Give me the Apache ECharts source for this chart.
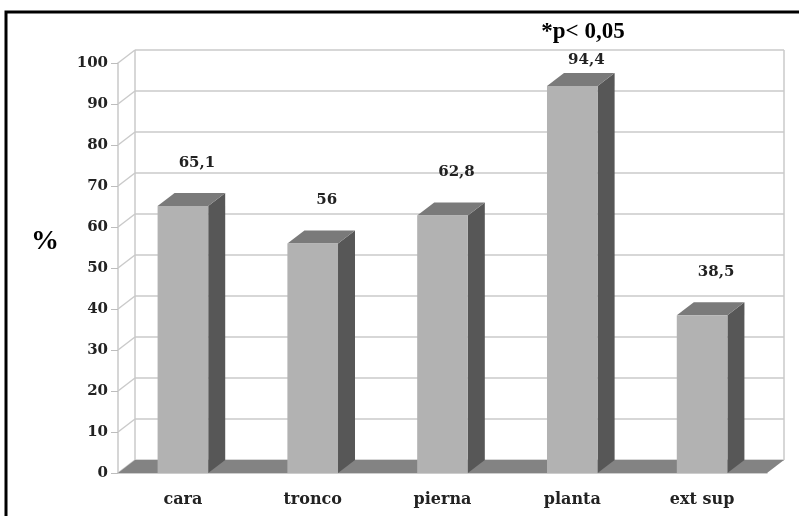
<!DOCTYPE html>
<html>
<head>
<meta charset="utf-8">
<script src="https://cdn.jsdelivr.net/npm/echarts@6/dist/echarts.min.js"></script>
<style>
  html, body { margin: 0; padding: 0; background: #fff; }
  #main { width: 799px; height: 516px; }
</style>
</head>
<body>
<div id="main"></div>
<script>
var categories = ['cara', 'tronco', 'pierna', 'planta', 'ext sup'];
var values = [65.1, 56, 62.8, 94.4, 38.5];
var valueLabels = ['65,1', '56', '62,8', '94,4', '38,5'];
var yTicks = [0, 10, 20, 30, 40, 50, 60, 70, 80, 90, 100];

// depth of the fake 3d
var DX = 17, DY = -13;
var labelFont = 'bold 15px "DejaVu Serif"';

var chart = echarts.init(document.getElementById('main'));

function renderWall(params, api) {
    var cs = params.coordSys;
    var left = cs.x, right = cs.x + cs.width;
    var y = api.coord([0, api.value(1)])[1];
    var line = { stroke: '#cacaca', lineWidth: 1.5 };
    var kids = [
        { type: 'line', shape: { x1: left, y1: y, x2: left + DX, y2: y + DY }, style: line },
        { type: 'line', shape: { x1: left + DX, y1: y + DY, x2: right + DX, y2: y + DY }, style: line }
    ];
    if (params.dataIndex === 0) {
        var yTop = cs.y;
        kids.push({ type: 'line', shape: { x1: left + DX, y1: y + DY, x2: left + DX, y2: yTop + DY }, style: line });
        kids.push({ type: 'line', shape: { x1: right + DX, y1: y + DY, x2: right + DX, y2: yTop + DY }, style: line });
        kids.push({
            type: 'polygon',
            shape: { points: [[left, y], [right, y], [right + DX, y + DY], [left + DX, y + DY]] },
            style: { fill: '#838383' }
        });
    }
    return { type: 'group', children: kids };
}

function renderBar(params, api) {
    var idx = api.value(0), v = api.value(1);
    var top = api.coord([idx, v]);
    var base = api.coord([idx, 0]);
    var w = api.size([1, 0])[0] * 0.39;
    var xl = top[0] - w / 2, xr = top[0] + w / 2;
    var yt = top[1], yb = base[1];
    var ly = api.coord([idx, Math.min(v + 10.5, 100.7)])[1];
    return {
        type: 'group',
        children: [
            { type: 'polygon', shape: { points: [[xr, yt], [xr + DX, yt + DY], [xr + DX, yb + DY], [xr, yb]] }, style: { fill: '#575757' } },
            { type: 'polygon', shape: { points: [[xl, yt], [xr, yt], [xr + DX, yt + DY], [xl + DX, yt + DY]] }, style: { fill: '#7a7a7a' } },
            { type: 'rect', shape: { x: xl, y: yt, width: w, height: yb - yt }, style: { fill: '#b2b2b2' } },
            { type: 'text', x: top[0] + 14, y: ly, style: { text: valueLabels[params.dataIndex], font: labelFont, fill: '#222', align: 'center', verticalAlign: 'middle' } }
        ]
    };
}

chart.setOption({
    animation: false,
    grid: { left: 118, right: 32, top: 63, bottom: 43 },
    xAxis: {
        type: 'category',
        data: categories,
        axisLine: { lineStyle: { color: '#bdbdbd', width: 1.5 } },
        axisTick: { length: 6, lineStyle: { color: '#c4c4c4' } },
        axisLabel: { margin: 19, color: '#222', fontFamily: 'DejaVu Serif', fontWeight: 'bold', fontSize: 16 },
        splitLine: { show: false }
    },
    yAxis: {
        type: 'value',
        min: 0, max: 100, interval: 10,
        axisLine: { show: true, lineStyle: { color: '#c8c8c8', width: 1.5 } },
        axisTick: { show: true, length: 7, lineStyle: { color: '#bdbdbd' } },
        axisLabel: { margin: 10, color: '#222', fontFamily: 'DejaVu Serif', fontWeight: 'bold', fontSize: 15 },
        splitLine: { show: false }
    },
    series: [{
        type: 'custom',
        renderItem: renderWall,
        data: yTicks.map(function (t) { return [0, t]; }),
        z: 1,
        silent: true
    }, {
        type: 'custom',
        renderItem: renderBar,
        data: values.map(function (v, i) { return [i, v]; }),
        z: 3
    }],
    graphic: [
        { type: 'rect', shape: { x: 6, y: 12, width: 900, height: 700 }, style: { fill: 'none', stroke: '#000', lineWidth: 3 } },
        { type: 'text', x: 45, y: 242, style: { text: '%', font: 'bold 28px "Liberation Serif"', fill: '#000', align: 'center', verticalAlign: 'middle' } },
        { type: 'text', x: 583, y: 32, style: { text: '*p< 0,05', font: 'bold 23px "Liberation Serif"', fill: '#000', align: 'center', verticalAlign: 'middle' } }
    ]
});
</script>
</body>
</html>
